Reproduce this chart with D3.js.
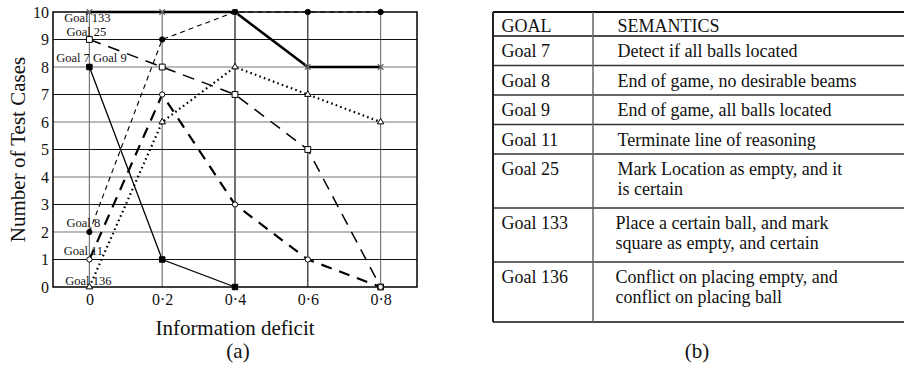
<!DOCTYPE html>
<html>
<head>
<meta charset="utf-8">
<script src="https://cdn.jsdelivr.net/npm/d3@7/dist/d3.min.js"></script>
<style>
  html, body { margin: 0; padding: 0; background: #fff; }
  svg { display: block; }
  text { font-family: "Liberation Serif", "Times New Roman", serif; fill: #111; }
</style>
</head>
<body>
<svg id="fig" width="904" height="365"></svg>
<script>
// Information deficit levels on the x axis
const deficits = [0, 0.2, 0.4, 0.6, 0.8];
const yTicks = [0, 1, 2, 3, 4, 5, 6, 7, 8, 9, 10];

// Number of test cases per goal at each deficit level
const goal7   = [8, 1, 0];
const goal8   = [2, 9, 10, 10, 10];
const goal11  = [1, 7, 3, 1, 0];
const goal25  = [9, 8, 7, 5, 0];
const goal133 = [10, 10, 10, 8, 8];
const goal136 = [0, 6, 8, 7, 6];

// Goal labels written beside the starting points
const startLabels = ["Goal 133", "Goal 25", "Goal 7 Goal 9", "Goal 8", "Goal 11", "Goal 136"];
const startValues = [10, 9, 8, 2, 1, 0];

// Semantics table
const tableHeader = ["GOAL", "SEMANTICS"];
const tableGoals = ["Goal 7", "Goal 8", "Goal 9", "Goal 11", "Goal 25", "Goal 133", "Goal 136"];
const tableSemantics = [
  ["Detect if all balls located"],
  ["End of game, no desirable beams"],
  ["End of game, all balls located"],
  ["Terminate line of reasoning"],
  ["Mark Location as empty, and it", "is certain"],
  ["Place a certain ball, and mark", "square as empty, and certain"],
  ["Conflict on placing empty, and", "conflict on placing ball"]
];

const svg = d3.select("#fig");
svg.append("rect").attr("width", 904).attr("height", 365).attr("fill", "#fff");

const x = d3.scaleLinear().domain([-0.1, 0.9]).range([53, 417]);
const y = d3.scaleLinear().domain([0, 10]).range([287, 12]);

const plot = svg.append("g");

// grid: alternating dark / grey rules
const vGridColor = ["#777", "#777", "#111", "#222", "#777"];
plot.append("g").selectAll("line").data(deficits).join("line")
  .attr("x1", d => x(d)).attr("x2", d => x(d))
  .attr("y1", y(10)).attr("y2", y(0))
  .attr("stroke", (d, i) => vGridColor[i]).attr("stroke-width", 1.2);
plot.append("g").selectAll("line").data(yTicks.slice(1, -1)).join("line")
  .attr("x1", x.range()[0]).attr("x2", x.range()[1])
  .attr("y1", d => y(d)).attr("y2", d => y(d))
  .attr("stroke", d => d % 2 ? "#111" : "#777").attr("stroke-width", 1.2);

// frame
plot.append("rect")
  .attr("x", x.range()[0]).attr("y", y(10))
  .attr("width", x.range()[1] - x.range()[0]).attr("height", y(0) - y(10))
  .attr("fill", "none").attr("stroke", "#000").attr("stroke-width", 1.5);

// axes (labels only, grid forms the ticks)
const xAxis = d3.axisBottom(x).tickValues(deficits).tickSize(0).tickPadding(8)
  .tickFormat(d => d === 0 ? "0" : d3.format(".1f")(d).replace(".", "\u00B7"));
const gx = svg.append("g").attr("transform", `translate(0,${y(0)})`).call(xAxis);
gx.select(".domain").remove();
gx.selectAll("text").attr("font-size", 16).attr("font-family", "Liberation Serif").attr("fill", "#111")
  .attr("dy", "0.95em").attr("y", 3);

const yAxis = d3.axisLeft(y).tickValues(yTicks).tickSize(0).tickPadding(4).tickFormat(d3.format("d"));
const gy = svg.append("g").attr("transform", `translate(${x.range()[0]},0)`).call(yAxis);
gy.select(".domain").remove();
gy.selectAll("text").attr("font-size", 16).attr("font-family", "Liberation Serif").attr("fill", "#111");

// series
const series = [
  { name: "Goal 133", values: goal133, width: 2.6, dash: null, marker: "cross" },
  { name: "Goal 8",   values: goal8,   width: 1.1, dash: "5,4", marker: "dot" },
  { name: "Goal 25",  values: goal25,  width: 1.5, dash: "12,8", marker: "openSquare" },
  { name: "Goal 11",  values: goal11,  width: 2.2, dash: "11,8", marker: "openCircle" },
  { name: "Goal 136", values: goal136, width: 2.2, dash: "1.6,3.2", marker: "openTriangle" },
  { name: "Goal 7",   values: goal7,   width: 1.3, dash: null, marker: "filledSquare" }
];

const line = d3.line().x((d, i) => x(deficits[i])).y(d => y(d));

series.forEach(s => {
  plot.append("path")
    .datum(s.values)
    .attr("d", line)
    .attr("fill", "none")
    .attr("stroke", "#000")
    .attr("stroke-width", s.width)
    .attr("stroke-dasharray", s.dash);
});

// markers
const sym = {
  cross: d3.symbol().type(d3.symbolTimes).size(22),
  dot: d3.symbol().type(d3.symbolCircle).size(22),
  openSquare: d3.symbol().type(d3.symbolSquare).size(34),
  openCircle: d3.symbol().type(d3.symbolCircle).size(22),
  openTriangle: d3.symbol().type(d3.symbolTriangle).size(18),
  filledSquare: d3.symbol().type(d3.symbolSquare).size(30)
};
series.forEach(s => {
  const g = plot.append("g");
  g.selectAll("path").data(s.values).join("path")
    .attr("transform", (d, i) => `translate(${x(deficits[i])},${y(d)})`)
    .attr("d", sym[s.marker]())
    .attr("fill", () => {
      if (s.marker === "dot" || s.marker === "filledSquare") return "#000";
      if (s.marker === "cross") return "none";
      return "#fff";
    })
    .attr("stroke", s.marker === "cross" ? "#666" : "#000")
    .attr("stroke-width", s.marker === "cross" ? 1.3 : 1);
});

// start labels
const labelDx = [-2, -3, 2, -6, -6, -1];
const labelDy = [10, -3.5, -5, -5, -4.5, -2];
svg.append("g").selectAll("text").data(startLabels).join("text")
  .attr("x", (d, i) => x(0) + labelDx[i])
  .attr("y", (d, i) => y(startValues[i]) + labelDy[i])
  .attr("text-anchor", "middle")
  .attr("font-size", 12.5)
  .text(d => d);

// axis titles
svg.append("text")
  .attr("x", (x.range()[0] + x.range()[1]) / 2)
  .attr("y", 335)
  .attr("text-anchor", "middle").attr("font-size", 21)
  .text("Information deficit");
svg.append("text")
  .attr("x", 238).attr("y", 358)
  .attr("text-anchor", "middle").attr("font-size", 21)
  .text("(a)");
svg.append("text")
  .attr("transform", `translate(25,${(y(0) + y(10)) / 2}) rotate(-90)`)
  .attr("text-anchor", "middle").attr("font-size", 21)
  .text("Number of Test Cases");

// ---- semantics table ----
const tLeft = 493, tDiv = 593, tRight = 904, tTop = 12;
const headerH = 24;
const rowH = tableSemantics.map((lines, i) =>
  (lines.length === 1 ? 29.5 : 54) + (i === tableSemantics.length - 1 ? 6 : 0));
const rowTops = [tTop + headerH];
rowH.forEach((h, i) => rowTops.push(rowTops[i] + h));
const tBottom = rowTops[rowTops.length - 1];

const tbl = svg.append("g");
// horizontal rules
const hLines = [tTop].concat(rowTops);
tbl.selectAll("line.h").data(hLines).join("line")
  .attr("class", "h")
  .attr("x1", tLeft).attr("x2", tRight)
  .attr("y1", d => d).attr("y2", d => d)
  .attr("stroke", (d, i) => (i === 0 || i === 1 || i === hLines.length - 1) ? "#111" : "#333")
  .attr("stroke-width", (d, i) => i === 0 ? 2 : 1.5);
// vertical rules
tbl.append("line").attr("x1", tLeft).attr("x2", tLeft).attr("y1", tTop).attr("y2", tBottom)
  .attr("stroke", "#222").attr("stroke-width", 2);
tbl.append("line").attr("x1", tDiv).attr("x2", tDiv).attr("y1", tTop).attr("y2", tBottom)
  .attr("stroke", "#666").attr("stroke-width", 1.5);

tbl.append("text").attr("x", 501.5).attr("y", tTop + 20).attr("font-size", 18).text(tableHeader[0]);
tbl.append("text").attr("x", 617.5).attr("y", tTop + 20).attr("font-size", 18).text(tableHeader[1]);

tableGoals.forEach((g, i) => {
  tbl.append("text").attr("x", 501.5).attr("y", rowTops[i] + 21).attr("font-size", 18).text(g);
  tableSemantics[i].forEach((t, j) => {
    tbl.append("text").attr("x", i >= 5 ? 615.5 : 617.5).attr("y", rowTops[i] + 21 + j * 20)
      .attr("font-size", 18).text(t);
  });
});

svg.append("text").attr("x", 697).attr("y", 358)
  .attr("text-anchor", "middle").attr("font-size", 21).text("(b)");
</script>
</body>
</html>
